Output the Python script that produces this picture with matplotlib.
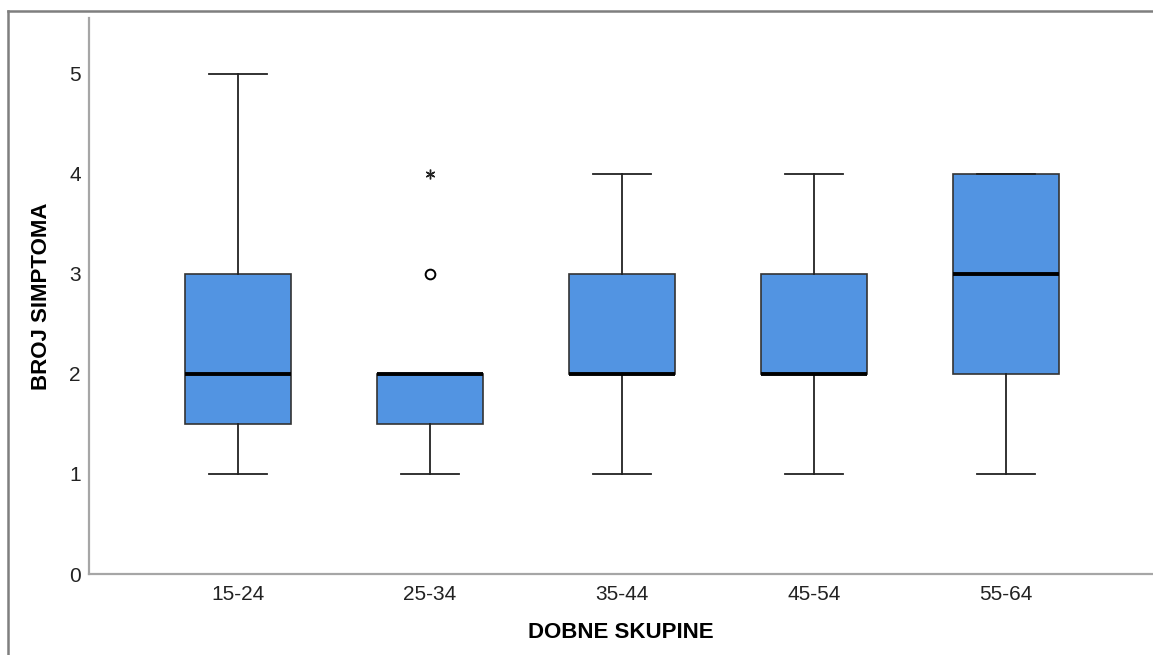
import matplotlib.pyplot as plt
from matplotlib.lines import Line2D

plt.rcParams['font.family'] = ['Liberation Sans', 'DejaVu Sans']

# Box plot summary per age group
groups = ['15-24', '25-34', '35-44', '45-54', '55-64']
whislo = [1, 1, 1, 1, 1]
q1 = [1.5, 1.5, 2, 2, 2]
med = [2, 2, 2, 2, 3]
q3 = [3, 2, 3, 3, 4]
whishi = [5, 2, 4, 4, 4]
outliers = [[], [3], [], [], []]
extremes = [[], [4], [], [], []]

stats = []
for i, g in enumerate(groups):
    stats.append({'label': g, 'whislo': whislo[i], 'q1': q1[i], 'med': med[i],
                  'q3': q3[i], 'whishi': whishi[i], 'fliers': outliers[i]})

fig = plt.figure(figsize=(11.53, 6.55), dpi=100)
ax = fig.add_axes([89 / 1153, 1 - 574 / 655, 1 - 89 / 1153, (574 - 18) / 655])

ax.bxp(stats, positions=range(len(groups)), widths=0.55, patch_artist=True,
       boxprops=dict(facecolor='#5294e2', edgecolor='#333333', linewidth=1.2),
       medianprops=dict(color='black', linewidth=2.8),
       whiskerprops=dict(color='#222222', linewidth=1.3),
       capprops=dict(color='#222222', linewidth=1.3),
       capwidths=0.3,
       flierprops=dict(marker='o', markersize=7, markerfacecolor='none',
                       markeredgecolor='black', markeredgewidth=1.4))

for i, ext in enumerate(extremes):
    if ext:
        ax.plot([i] * len(ext), ext, linestyle='none', marker=(6, 2, 0),
                markersize=7, color='#222222', markeredgewidth=1.0)

ax.set_xlim((89 - 238) / 192, (1153 - 238) / 192)
ax.set_ylim(0, 5.56)
ax.set_yticks([0, 1, 2, 3, 4, 5])
ax.set_xticks(range(len(groups)))
ax.set_xticklabels(groups)
ax.tick_params(axis='both', length=0, labelsize=15, colors='#222222')
ax.tick_params(axis='x', pad=8)
ax.tick_params(axis='y', pad=6)

for s in ['top', 'right']:
    ax.spines[s].set_visible(False)
for s in ['left', 'bottom']:
    ax.spines[s].set_color('#a6a6a6')
    ax.spines[s].set_linewidth(1.6)

ax.set_xlabel('DOBNE SKUPINE', fontsize=16, fontweight='bold', va='center')
ax.set_ylabel('BROJ SIMPTOMA', fontsize=16, fontweight='bold', va='center')
ax.xaxis.set_label_coords(0.5, (574 - 632) / 556)
ax.yaxis.set_label_coords((42 - 89) / 1064, 0.5)

# outer frame lines (top and left)
fig.add_artist(Line2D([8 / 1153, 1], [1 - 11 / 655, 1 - 11 / 655],
                      transform=fig.transFigure, color='#7f7f7f', linewidth=1.8))
fig.add_artist(Line2D([8 / 1153, 8 / 1153], [0, 1 - 11 / 655],
                      transform=fig.transFigure, color='#7f7f7f', linewidth=1.8))

fig.savefig('out.png', dpi=100)
